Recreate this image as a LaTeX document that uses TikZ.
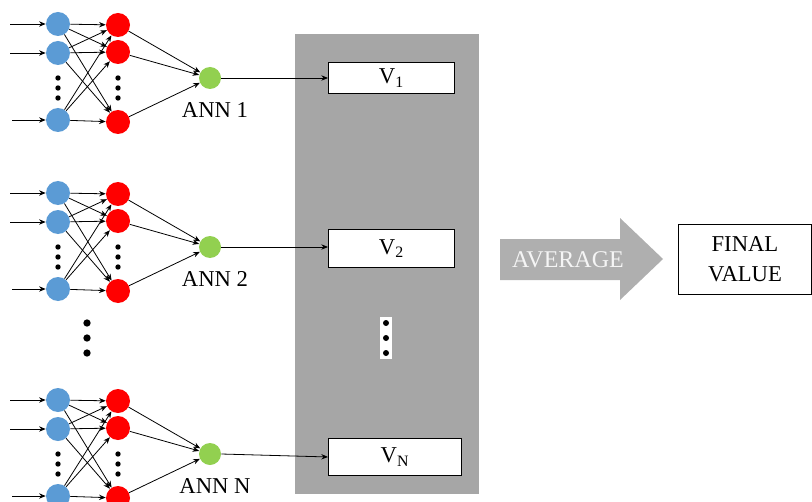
\documentclass[tikz,border=0pt]{standalone}
\usepackage{fontspec}
\setmainfont{Liberation Serif}
\usetikzlibrary{arrows.meta,shapes.arrows}
\definecolor{nblue}{HTML}{5B9BD5}
\definecolor{nred}{HTML}{FF0000}
\definecolor{ngreen}{HTML}{92D050}
\definecolor{panel}{HTML}{A6A6A6}
\tikzset{
  inp/.style={circle,fill=nblue,minimum size=18pt,inner sep=0},
  hid/.style={circle,fill=nred,minimum size=18pt,inner sep=0},
  outn/.style={circle,fill=ngreen,minimum size=16.5pt,inner sep=0},
  conn/.style={-{Stealth[length=5pt,width=4pt]},line width=0.6pt},
  vdot/.style={circle,fill=black,minimum size=4pt,inner sep=0},
  bigdot/.style={circle,fill=black,minimum size=5.5pt,inner sep=0},
  vbox/.style={draw,line width=0.7pt,fill=white,inner sep=0,anchor=north west},
  lbl/.style={font=\fontsize{17}{19}\selectfont},
}
\begin{document}
\begin{tikzpicture}[x=0.75pt,y=-0.75pt]
\useasboundingbox (0,0) rectangle (812,502);
\clip (0,0) rectangle (812,502);
% grey panel
\fill[panel] (295,34) rectangle (479,494);
% ANNs
\foreach \k/\o/\t in {1/0/ANN 1,2/169/ANN 2,3/376/ANN N}{
  \begin{scope}[yshift=-0.75*\o pt]
    \node[inp] (b1-\k) at (58,24) {};
    \node[inp] (b2-\k) at (58,53) {};
    \node[inp] (b3-\k) at (58,120) {};
    \node[hid] (r1-\k) at (118,25) {};
    \node[hid] (r2-\k) at (118,52) {};
    \node[hid] (r3-\k) at (118,122) {};
    \node[outn] (g-\k) at (210,78) {};
    \foreach \yy in {78,88,98}{
      \node[vdot] at (58,\yy) {};
      \node[vdot] at (118,\yy) {};
    }
    \coordinate (i1-\k) at (10,24);
    \coordinate (i2-\k) at (10,53);
    \coordinate (i3-\k) at (12,120);
    \foreach \i in {1,2,3}{
      \draw[conn] (i\i-\k) -- (b\i-\k);
      \foreach \j in {1,2,3}{
        \draw[conn] (b\i-\k) -- (r\j-\k);
      }
      \draw[conn] (r\i-\k) -- (g-\k);
    }
    \node[lbl] (l-\k) at (215,110) {\t};
  \end{scope}
}
% big dots between ANN 2 and ANN N
\node[bigdot] (d1) at (87,323) {};
\node[bigdot] (d2) at (87,338) {};
\node[bigdot] (d3) at (87,353) {};
% value boxes
\node[vbox,minimum width=94.5pt,minimum height=23.25pt,lbl] (v1) at (328,62) {V\textsubscript{1}};
\node[vbox,minimum width=94.5pt,minimum height=28.5pt,lbl] (v2) at (328,229) {V\textsubscript{2}};
\node[vbox,minimum width=99.75pt,minimum height=27.75pt,lbl] (vn) at (328,438) {V\textsubscript{N}};
\draw[conn] (g-1) -- (g-1 -| v1.west);
\draw[conn] (g-2) -- (g-2 -| v2.west);
\draw[conn] (g-3.east) -- (vn.west);
% dots in panel
\fill[white] (380,317) rectangle (392,359);
\node[vdot,minimum size=4.5pt] (p1) at (386,323) {};
\node[vdot,minimum size=4.5pt] (p2) at (386,338) {};
\node[vdot,minimum size=4.5pt] (p3) at (386,353) {};
% average arrow
\fill[panel!90!white] (500,239) -- (620,239) -- (620,218) -- (663,259) -- (620,300) -- (620,280) -- (500,280) -- cycle;
\node[text=white!92!gray,font=\fontsize{18}{20}\selectfont] (avg) at (568,260) {AVERAGE};
% final value
\node[draw,line width=0.7pt,minimum width=99.75pt,minimum height=52.5pt,anchor=north west,align=center,font=\fontsize{17}{22.5}\selectfont,inner sep=0] (fv) at (678,224) {FINAL\\VALUE};
\end{tikzpicture}
\end{document}
